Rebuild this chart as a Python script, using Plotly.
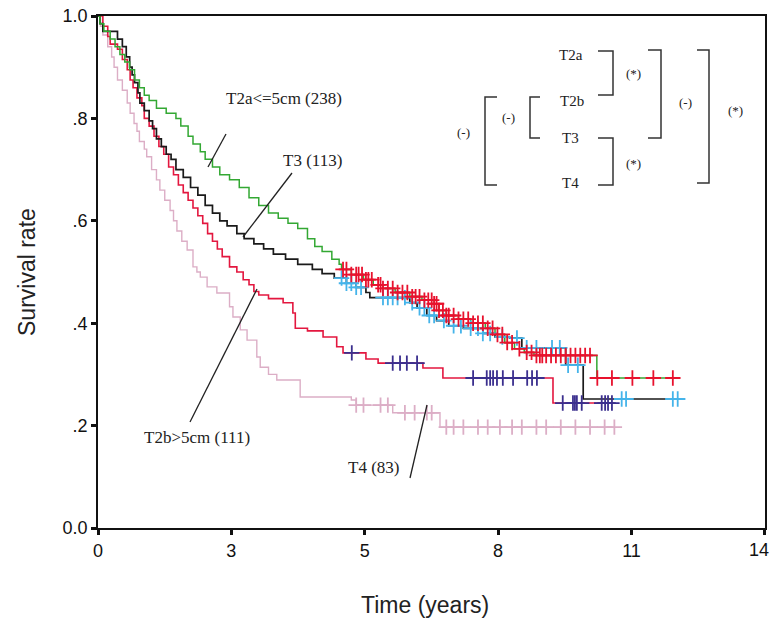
import numpy as np
import plotly.graph_objects as go

# ---------------- data (time in years, survival proportion) ----------------
t2a_t = [0, 0.04, 0.12, 0.25, 0.35, 0.45, 0.55, 0.65, 0.75, 0.85, 0.95, 1.05, 1.2, 1.4, 1.6, 1.7,
         1.85, 1.95, 2.1, 2.2, 2.35, 2.5, 2.7, 2.9, 3.1, 3.3, 3.5, 3.7, 3.9, 4.1, 4.3, 4.45, 4.6,
         4.8, 4.95, 5.0, 5.2, 5.45, 5.65, 5.85, 6.1, 6.4, 6.65, 6.9, 7.0, 7.15, 7.4, 7.65, 7.95,
         8.15, 8.35, 8.55, 8.75, 8.95, 10.24, 11.86]
t2a_s = [1.0, 0.985, 0.97, 0.955, 0.94, 0.925, 0.91, 0.895, 0.875, 0.86, 0.845, 0.835, 0.82, 0.81,
         0.8, 0.785, 0.765, 0.75, 0.735, 0.72, 0.705, 0.69, 0.68, 0.665, 0.645, 0.63, 0.615, 0.605,
         0.595, 0.585, 0.565, 0.55, 0.54, 0.525, 0.515, 0.505, 0.495, 0.485, 0.475, 0.468, 0.46,
         0.452, 0.445, 0.438, 0.425, 0.415, 0.408, 0.4, 0.39, 0.378, 0.362, 0.35, 0.343, 0.337,
         0.293, 0.293]

t3_t = [0, 0.04, 0.1, 0.4, 0.5, 0.58, 0.65, 0.7, 0.75, 0.82, 0.86, 0.95, 1.05, 1.12, 1.2, 1.3, 1.4,
        1.5, 1.6, 1.75, 1.9, 2.05, 2.2, 2.35, 2.5, 2.65, 2.85, 3.0, 3.2, 3.4, 3.6, 3.85, 4.1, 4.4,
        4.6, 4.85, 5.1, 5.3, 5.5, 5.58, 6.4, 6.55, 6.75, 6.95, 7.2, 7.5, 7.9, 8.15, 8.45, 8.7,
        9.6, 9.96, 11.95]
t3_s = [1.0, 0.985, 0.97, 0.955, 0.94, 0.92, 0.9, 0.885, 0.87, 0.85, 0.83, 0.815, 0.795, 0.78, 0.76,
        0.745, 0.73, 0.72, 0.7, 0.685, 0.665, 0.65, 0.63, 0.615, 0.6, 0.59, 0.575, 0.565, 0.555,
        0.545, 0.535, 0.525, 0.515, 0.505, 0.497, 0.488, 0.478, 0.47, 0.46, 0.45, 0.44, 0.43,
        0.415, 0.405, 0.395, 0.39, 0.38, 0.373, 0.371, 0.352, 0.318, 0.252, 0.252]

t2b_t = [0, 0.1, 0.2, 0.25, 0.4, 0.5, 0.6, 0.66, 0.72, 0.8, 0.9, 0.95, 1.05, 1.15, 1.25, 1.35, 1.45,
         1.55, 1.65, 1.75, 1.85, 1.95, 2.05, 2.15, 2.25, 2.35, 2.45, 2.55, 2.7, 2.85, 2.98, 3.1,
         3.2, 3.3, 3.5, 3.8, 4.0, 4.05, 4.3, 4.62, 4.9, 5.03, 5.5, 5.75, 6.67, 7.08, 9.34, 10.6]
t2b_s = [1.0, 0.98, 0.96, 0.945, 0.935, 0.915, 0.895, 0.875, 0.86, 0.84, 0.825, 0.8, 0.785, 0.765,
         0.745, 0.73, 0.705, 0.69, 0.67, 0.655, 0.64, 0.625, 0.61, 0.595, 0.575, 0.56, 0.545, 0.53,
         0.51, 0.5, 0.485, 0.475, 0.462, 0.455, 0.448, 0.44, 0.42, 0.39, 0.385, 0.373, 0.354,
         0.342, 0.33, 0.322, 0.3125, 0.293, 0.244, 0.244]

t4_t = [0, 0.05, 0.1, 0.2, 0.28, 0.33, 0.4, 0.5, 0.6, 0.66, 0.74, 0.8, 0.85, 0.95, 1.0, 1.1, 1.2,
        1.27, 1.37, 1.48, 1.55, 1.62, 1.72, 1.83, 1.95, 2.03, 2.1, 2.24, 2.44, 2.7, 2.77, 2.92,
        3.06, 3.26, 3.33, 3.5, 3.67, 4.15, 5.2, 5.3, 6.05, 7.02, 10.6]
t4_s = [1.0, 0.98, 0.963, 0.94, 0.92, 0.9, 0.875, 0.855, 0.83, 0.81, 0.79, 0.775, 0.755, 0.74,
        0.725, 0.7, 0.68, 0.66, 0.64, 0.62, 0.6, 0.58, 0.56, 0.543, 0.51, 0.5, 0.49, 0.471, 0.459,
        0.432, 0.412, 0.387, 0.367, 0.334, 0.314, 0.3, 0.289, 0.256, 0.25, 0.24, 0.225, 0.197,
        0.197]

# censoring times (years)
cens_t2a = [5.03, 5.1, 5.2, 5.3, 5.35, 5.42, 5.5, 5.55, 5.62, 5.75, 5.8, 5.85, 5.95, 6.05, 6.15,
            6.25, 6.35, 6.45, 6.52, 6.6, 6.7, 6.78, 6.85, 6.9, 6.95, 7.0, 7.08, 7.15, 7.2, 7.3,
            7.4, 7.5, 7.6, 7.7, 7.8, 7.9, 8.0, 8.1, 8.2, 8.3, 8.4, 8.5, 8.65, 8.8, 8.9, 9.0, 9.07,
            9.12, 9.2, 9.3, 9.4, 9.5, 9.6, 9.7, 9.8, 9.9, 10.0, 10.1, 10.25, 10.55, 10.97, 11.4,
            11.8]
cens_t3 = [5.0, 5.1, 5.2, 5.3, 5.4, 5.85, 5.95, 6.05, 6.15, 6.3, 6.45, 6.6, 6.7, 6.8, 6.9, 7.1,
           7.3, 7.45, 7.65, 7.8, 7.9, 8.05, 8.3, 8.6, 8.8, 9.0, 9.32, 9.48, 9.65, 9.85, 10.75,
           10.84, 11.8, 11.9]
cens_t2b = [5.21, 6.05, 6.2, 6.34, 6.55, 7.7, 7.98, 8.05, 8.11, 8.19, 8.31, 8.52, 8.81, 8.91, 9.01,
            9.54, 9.75, 9.79, 9.83, 9.93, 10.34, 10.41, 10.47, 10.55]
cens_t4 = [5.3, 5.45, 5.8, 5.95, 6.3, 6.5, 6.75, 6.85, 7.15, 7.3, 7.5, 7.8, 8.0, 8.25, 8.5, 8.7,
           9.0, 9.2, 9.5, 9.8, 10.1, 10.4, 10.6]

x_tick_days = [0, 1000, 2000, 3000, 4000, 5000]
x_tick_text = ["0", "3", "5", "8", "11", "14"]
y_tick_vals = [0, 0.2, 0.4, 0.6, 0.8, 1.0]
y_tick_text = ["0.0", ".2", ".4", ".6", ".8", "1.0"]

# ---------------- figure ----------------
W, H = 772, 632
L, R, T, B = 98, 7, 16, 104
PW, PH = W - L - R, H - T - B


def px(x):
    return (x - L) / PW


def py(y):
    return (H - B - y) / PH


def step_at(tt, ss, q):
    idx = np.searchsorted(np.array(tt), np.array(q), side="right") - 1
    return [ss[i] for i in idx]


fig = go.Figure()

curves = [
    (t4_t, t4_s, "#dcaec6", 1.4),
    (t2b_t, t2b_s, "#e3173f", 1.6),
    (t3_t, t3_s, "#1a1a1a", 1.7),
    (t2a_t, t2a_s, "#33a833", 1.5),
]
for tt, ss, col, w in curves:
    fig.add_trace(go.Scatter(x=tt, y=ss, mode="lines", line=dict(color=col, width=w, shape="hv"),
                             hoverinfo="skip", showlegend=False))

cens = [
    (cens_t4, t4_t, t4_s, "#dcaec6"),
    (cens_t2b, t2b_t, t2b_s, "#3b2f8e"),
    (cens_t3, t3_t, t3_s, "#45b4ea"),
    (cens_t2a, t2a_t, t2a_s, "#e8112d"),
]
for ct, tt, ss, col in cens:
    fig.add_trace(go.Scatter(x=ct, y=step_at(tt, ss, ct), mode="markers",
                             marker=dict(symbol="cross-thin", size=11, color=col,
                                         line=dict(color=col, width=1.8)),
                             hoverinfo="skip", showlegend=False))

sans = "Liberation Sans, Arial, sans-serif"
tick_font = dict(family=sans, size=18, color="#111")
x_end = 5001 / 365.25
# the last x tick label sits at the page edge; it is drawn as an annotation kept inside the page
x_tick_text_axis = x_tick_text[:-1] + [""]
axis_common = dict(showgrid=False, zeroline=False, showline=True, linecolor="#111", linewidth=1.8,
                   mirror=True, ticks="outside", ticklen=5, tickwidth=3, tickcolor="#111",
                   automargin=False, tickfont=tick_font)
fig.update_xaxes(range=[0, x_end], tickvals=[d / 365.25 for d in x_tick_days],
                 ticktext=x_tick_text_axis, **axis_common)
fig.update_yaxes(range=[0, 1], tickvals=y_tick_vals, ticktext=y_tick_text, **axis_common)

ann = []
serif = "Liberation Serif, Times New Roman, serif"


def label(txt, x, y, font, angle=0, xanchor="center"):
    ann.append(dict(text=txt, x=px(x), y=py(y), xref="paper", yref="paper", showarrow=False,
                    xanchor=xanchor, yanchor="middle", textangle=angle, font=font))


label(x_tick_text[-1], 771, 550, tick_font, xanchor="right")

# curve labels
for txt, x, y in [("T2a&lt;=5cm (238)", 284, 98), ("T3 (113)", 312, 160),
                  ("T2b&gt;5cm (111)", 197, 437), ("T4 (83)", 373, 467)]:
    label(txt, x, y, dict(family=serif, size=17, color="#222"))

# axis titles
label("Survival rate", 27, 272, dict(family=sans, size=23, color="#222"), angle=-90)
label("Time (years)", 425, 605, dict(family=sans, size=23, color="#222"))

# bracket diagram texts
for txt, x, y in [("T2a", 571, 55), ("T2b", 572, 101), ("T3", 570, 138), ("T4", 570, 183)]:
    label(txt, x, y, dict(family=serif, size=15, color="#222"))
for txt, x, y in [("(*)", 633, 73), ("(-)", 685, 102), ("(*)", 735, 110), ("(-)", 508, 117),
                  ("(-)", 463, 132), ("(*)", 633, 163)]:
    label(txt, x, y, dict(family=serif, size=13, color="#222"))

shapes = []
# pointer lines
for x0, y0, x1, y1 in [(226, 134, 208, 167), (292, 173, 243, 237), (190, 422, 257, 289),
                       (410, 478, 427, 405)]:
    shapes.append(dict(type="line", xref="paper", yref="paper", x0=px(x0), y0=py(y0),
                       x1=px(x1), y1=py(y1), line=dict(color="#222", width=1.3)))

# brackets: (x_open, x_spine, y_top, y_bottom)
brackets = [(598, 613, 51, 95), (648, 661, 50, 138), (598, 613, 138, 185), (697, 709, 50, 183),
            (540, 530, 97, 138), (497, 485, 97, 185)]
for xo, xs, yt, yb in brackets:
    path = f"M {px(xo)} {py(yt)} L {px(xs)} {py(yt)} L {px(xs)} {py(yb)} L {px(xo)} {py(yb)}"
    shapes.append(dict(type="path", xref="paper", yref="paper", path=path,
                       line=dict(color="#333", width=1.5)))

fig.update_layout(width=W, height=H, margin=dict(l=L, r=R, t=T, b=B),
                  paper_bgcolor="white", plot_bgcolor="white", annotations=ann, shapes=shapes,
                  showlegend=False)

fig.write_html("out.html", config={"displayModeBar": False},
               post_script="document.body.style.margin='0';"
                           "document.body.style.overflow='hidden';")
